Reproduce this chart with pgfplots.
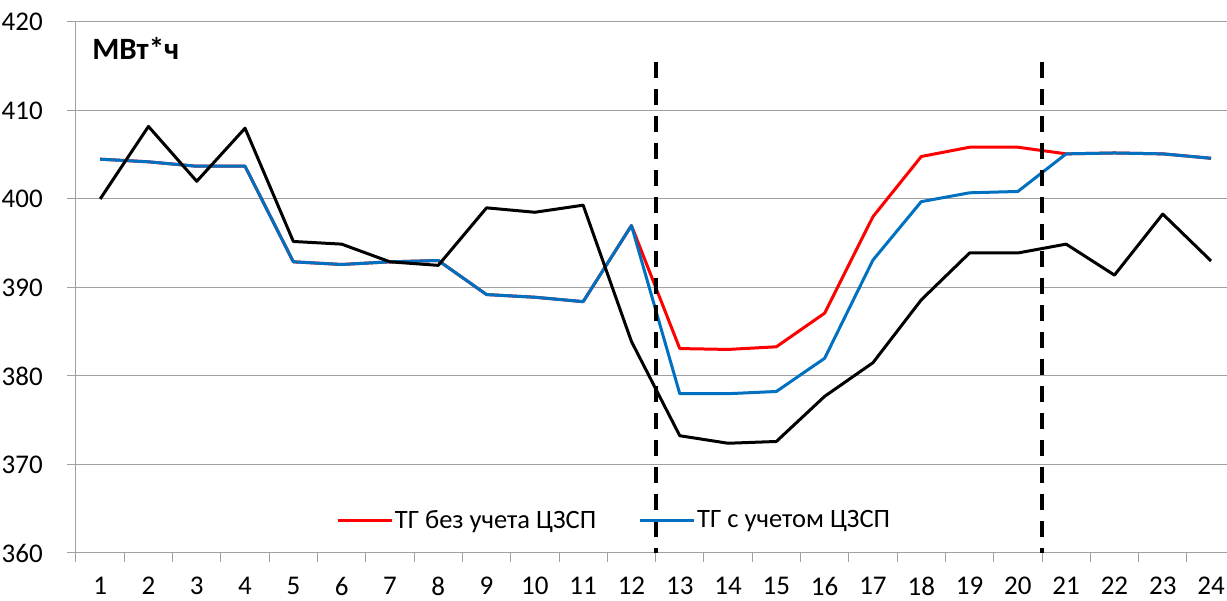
\documentclass[border=0pt]{standalone}
\usepackage{fontspec}
\setmainfont{Carlito}
\usepackage{pgfplots}
\pgfplotsset{compat=1.18}
\definecolor{xlblue}{HTML}{0070C0}
\definecolor{gridgray}{HTML}{A0A0A0}
\begin{document}
\begin{tikzpicture}
\useasboundingbox (-76pt,-48pt) rectangle (1151pt,553pt);
\begin{axis}[
  scale only axis, width=1151pt, height=531pt,
  xmin=0.5, xmax=24.33, ymin=360, ymax=420,
  axis x line*=bottom, axis y line*=left,
  axis line style={gridgray, line width=1pt},
  ytick={360,370,...,420},
  ymajorgrids, major grid style={gridgray, line width=1pt},
  xtick={0.5,1.5,...,23.5},
  xticklabels={1,2,3,4,5,6,7,8,9,10,11,12,13,14,15,16,17,18,19,20,21,22,23,24},
  tick align=outside, major tick length=9pt,
  tick style={gridgray, line width=1pt},
  /pgf/number format/assume math mode=true,
  tick label style={font=\fontsize{27}{30}\selectfont, text=black},
  xticklabel style={inner sep=0pt, anchor=north, xshift=24.15pt, yshift=-15pt},
  yticklabel style={inner sep=0pt, anchor=east, xshift=-24pt},
  legend style={draw=none, fill=none, legend columns=2,
    at={(rel axis cs:0.4674,0.0621)}, anchor=center,
    font=\fontsize{26.5}{30}\selectfont, nodes={inner sep=1.5pt},
    /tikz/every even column/.append style={column sep=41pt}},
  legend image code/.code={\draw[#1,line width=3pt] (0pt,0pt) -- (54pt,0pt);},
  every axis plot/.append style={line width=3pt, line join=round},
]
\addplot[red] coordinates {(1,404.5)(2,404.2)(3,403.7)(4,403.7)(5,392.9)(6,392.6)(7,392.9)(8,393.05)(9,389.2)(10,388.9)(11,388.4)(12,397.0)(13,383.1)(14,383.0)(15,383.3)(16,387.1)(17,398.0)(18,404.8)(19,405.85)(20,405.85)(21,405.1)(22,405.2)(23,405.1)(24,404.6)};
\addlegendentry{ТГ без учета ЦЗСП}
\addplot[xlblue] coordinates {(1,404.5)(2,404.2)(3,403.7)(4,403.7)(5,392.9)(6,392.6)(7,392.9)(8,393.05)(9,389.2)(10,388.9)(11,388.4)(12,397.0)(13,378.0)(14,378.0)(15,378.25)(16,382.0)(17,393.1)(18,399.7)(19,400.7)(20,400.85)(21,405.1)(22,405.2)(23,405.1)(24,404.6)};
\addlegendentry{ТГ с учетом ЦЗСП}
\addplot[black, forget plot] coordinates {(1,400.0)(2,408.2)(3,402.0)(4,408.0)(5,395.2)(6,394.9)(7,392.9)(8,392.5)(9,399.0)(10,398.5)(11,399.3)(12,383.9)(13,373.25)(14,372.4)(15,372.6)(16,377.7)(17,381.5)(18,388.6)(19,393.9)(20,393.9)(21,394.9)(22,391.4)(23,398.3)(24,393.0)};
\addplot[black, forget plot, line width=4pt, dash pattern=on 16pt off 11pt] coordinates {(12.5,415.5)(12.5,360)};
\addplot[black, forget plot, line width=4pt, dash pattern=on 16pt off 11pt] coordinates {(20.5,415.5)(20.5,360)};
\node[anchor=base west, font=\bfseries\fontsize{31}{34}\selectfont, inner sep=0pt] at (rel axis cs:0.014,0.9303) {МВт*ч};
\end{axis}
\end{tikzpicture}
\end{document}
